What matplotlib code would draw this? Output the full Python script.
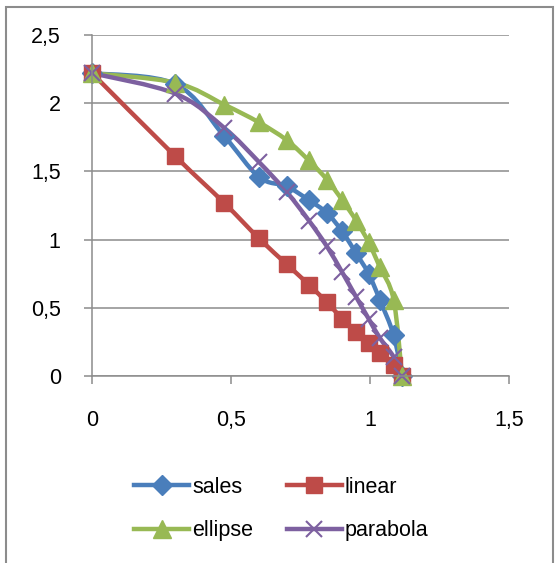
import matplotlib
matplotlib.use("Agg")
import matplotlib.pyplot as plt
import numpy as np
from matplotlib.path import Path
from matplotlib.patches import PathPatch, Rectangle
from matplotlib.lines import Line2D

plt.rcParams['font.family'] = ['Liberation Sans', 'DejaVu Sans']

# data
x_vals = [0, 0.30, 0.475, 0.60, 0.70, 0.78, 0.845, 0.90, 0.95, 0.995, 1.035, 1.085, 1.115]
sales = [2.22, 2.14, 1.76, 1.46, 1.39, 1.29, 1.195, 1.06, 0.90, 0.75, 0.56, 0.30, 0]
linear = [2.22, 1.61, 1.27, 1.01, 0.82, 0.67, 0.54, 0.42, 0.32, 0.24, 0.17, 0.08, 0]
ellipse = [2.22, 2.15, 1.99, 1.86, 1.73, 1.58, 1.44, 1.29, 1.14, 0.98, 0.80, 0.56, 0]
parabola = [2.22, 2.07, 1.82, 1.57, 1.35, 1.14, 0.95, 0.76, 0.58, 0.42, 0.28, 0.14, 0]

series_names = ['sales', 'linear', 'ellipse', 'parabola']
colors = ['#4A7EBB', '#BE4B48', '#98B954', '#7D60A0']
markers = ['D', 's', '^', 'x']
msizes = [10, 12, 13, 12]

x_ticks = [0, 0.5, 1, 1.5]
x_ticklabels = ['0', '0,5', '1', '1,5']
y_ticks = [0, 0.5, 1, 1.5, 2, 2.5]
y_ticklabels = ['0', '0,5', '1', '1,5', '2', '2,5']


def smooth_path(xs, ys):
    # Catmull-Rom style bezier, like Excel's smoothed line
    pts = np.column_stack([xs, ys])
    n = len(pts)
    verts = [pts[0]]
    codes = [Path.MOVETO]
    for i in range(n - 1):
        p0 = pts[i - 1] if i > 0 else pts[i]
        p1 = pts[i]
        p2 = pts[i + 1]
        p3 = pts[i + 2] if i + 2 < n else pts[i + 1]
        c1 = p1 + (p2 - p0) / 6.0
        c2 = p2 - (p3 - p1) / 6.0
        verts += [c1, c2, p2]
        codes += [Path.CURVE4] * 3
    return Path(verts, codes)


fig = plt.figure(figsize=(5.55, 5.63), dpi=100)
ax = fig.add_axes([92 / 555, 1 - 376 / 563, 417 / 555, 341 / 563])

all_y = [sales, linear, ellipse, parabola]
for name, ys, c, m, ms in zip(series_names, all_y, colors, markers, msizes):
    patch = PathPatch(smooth_path(x_vals, ys), facecolor='none', edgecolor=c,
                      lw=3.2, capstyle='round', joinstyle='round', clip_on=False)
    ax.add_patch(patch)
    ax.plot(x_vals, ys, linestyle='none', marker=m, markersize=ms, color=c,
            markeredgecolor=c, markeredgewidth=1.5 if m == 'x' else 1,
            clip_on=False)

ax.set_xlim(0, 1.5)
ax.set_ylim(0, 2.5)
ax.set_xticks(x_ticks)
ax.set_xticklabels(x_ticklabels)
ax.set_yticks(y_ticks)
ax.set_yticklabels(y_ticklabels)

ax.grid(axis='y', color='#8C8C8C', lw=1.1)
ax.set_axisbelow(True)
for s in ['top', 'right']:
    ax.spines[s].set_visible(False)
for s in ['left', 'bottom']:
    ax.spines[s].set_color('#8C8C8C')
    ax.spines[s].set_linewidth(1.1)
ax.tick_params(axis='both', direction='out', length=5.5, width=1.1,
               color='#8C8C8C', labelsize=15.5)
ax.tick_params(axis='x', pad=19)
ax.tick_params(axis='y', pad=17)

handles = [Line2D([], [], color=c, lw=3.2, marker=m, markersize=ms,
                  markeredgewidth=1.5 if m == 'x' else 1)
           for c, m, ms in zip(colors, markers, msizes)]
# legend fills column by column, so reorder to get rows sales/linear, ellipse/parabola
order = [0, 2, 1, 3]
fig.legend([handles[i] for i in order], [series_names[i] for i in order],
           loc='center', bbox_to_anchor=(0.507, 0.096),
           ncol=2, frameon=False, fontsize=15.5, handlelength=2.55,
           handletextpad=0.15, columnspacing=1.55, labelspacing=1.05)

fig.patches.append(Rectangle((6 / 555, -0.05), 547 / 555, 1 - 7 / 563 + 0.05,
                             transform=fig.transFigure, fill=False,
                             edgecolor='#8C8C8C', lw=1.5))

fig.savefig('out.png', dpi=100)
